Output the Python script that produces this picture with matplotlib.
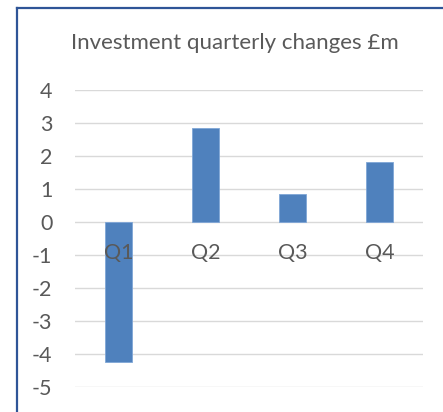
import matplotlib
matplotlib.use("Agg")
import matplotlib.pyplot as plt
from matplotlib.lines import Line2D

categories = ["Q1", "Q2", "Q3", "Q4"]
values = [-4.23, 2.84, 0.84, 1.82]
yticks = [4, 3, 2, 1, 0, -1, -2, -3, -4, -5]
title = "Investment quarterly changes £m"

plt.rcParams['font.family'] = ['Lato', 'DejaVu Sans']
text_color = "#595959"
bar_color = "#4F81BD"
grid_color = "#D9D9D9"
border_color = "#2F5597"

fig = plt.figure(figsize=(4.43, 4.12), dpi=100)
fig.patch.set_facecolor("white")

# chart border: only left and top edges are inside the image
bx = 16.5 / 443
by = 1 - 7.5 / 412
fig.lines.append(Line2D([bx, bx], [-0.05, by], transform=fig.transFigure,
                        color=border_color, linewidth=1.6, solid_capstyle='projecting'))
fig.lines.append(Line2D([bx, 1.05], [by, by], transform=fig.transFigure,
                        color=border_color, linewidth=1.6, solid_capstyle='projecting'))

ax = fig.add_axes([75.3 / 443, 24.7 / 412, 348 / 443, 297.3 / 412])
x = range(len(categories))
ax.bar(x, values, width=0.31, color=bar_color, edgecolor="#7FA6D6", linewidth=0.6, zorder=3)
ax.set_xlim(-0.5, len(categories) - 0.5)
ax.set_ylim(min(yticks), max(yticks))
ax.set_yticks(yticks)
ax.set_yticklabels([str(t) for t in yticks])
ax.yaxis.grid(True, color=grid_color, linewidth=1.0, zorder=0)
ax.set_xticks([])
for s in ax.spines.values():
    s.set_visible(False)
ax.tick_params(axis='y', length=0, pad=16.5, labelsize=15.5, labelcolor=text_color)

for i, c in enumerate(categories):
    ax.annotate(c, xy=(i, 0), xytext=(0, -31), textcoords='offset pixels',
                ha='center', va='center', fontsize=15.5, color=text_color, zorder=4)

fig.text(234.7 / 443, 1 - 43 / 412, title, ha='center', va='center',
         fontsize=16, color=text_color)

fig.savefig("out.png", dpi=100, facecolor="white")
